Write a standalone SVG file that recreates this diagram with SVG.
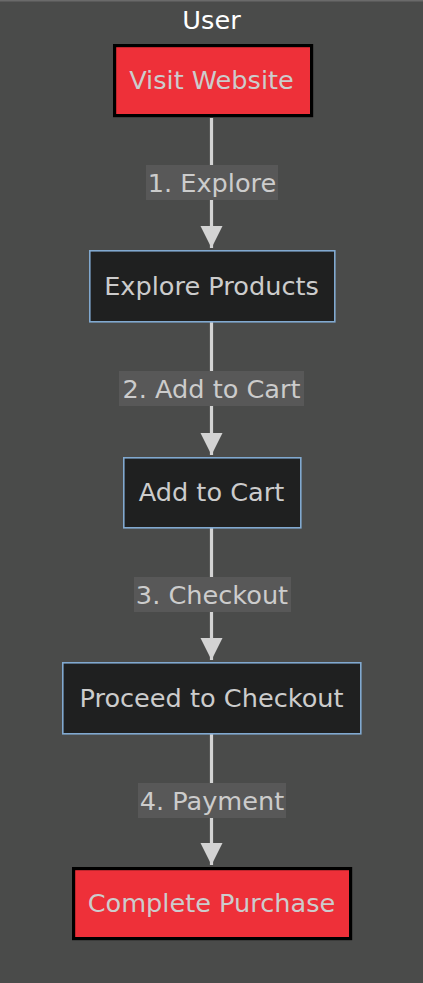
<svg xmlns="http://www.w3.org/2000/svg" width="423" height="983" viewBox="0 0 423 983">
<defs>
<style>
text{font-family:"DejaVu Sans","Liberation Sans",sans-serif;font-size:25.6px;text-anchor:middle;dominant-baseline:central;fill:#cccccc}
.title{fill:#ffffff}
.red{fill:#ee3039;stroke:#000000;stroke-width:3.2}
.blue{fill:#1f2020;stroke:#81a9d0;stroke-width:1.6}
.edge{stroke:#d3d3d3;stroke-width:3.2;fill:none}
.lbl{fill:#585858}
</style>
<marker id="arr" viewBox="0 0 10 10" refX="10" refY="5" markerWidth="7" markerHeight="7" markerUnits="strokeWidth" orient="auto">
<path d="M0,0 L10,5 L0,10 z" fill="#d3d3d3"/>
</marker>
</defs>
<rect id="background" x="0" y="0" width="423" height="983" fill="#4a4b4a"/>
<line x1="0" y1="0.8" x2="423" y2="0.8" stroke="#6a6a6a" stroke-width="1.6"/>
<text class="title" x="211.5" y="20">User</text>
<g id="connectors">
<path class="edge" d="M211.5,118 V248" marker-end="url(#arr)"/>
<path class="edge" d="M211.5,322 V455" marker-end="url(#arr)"/>
<path class="edge" d="M211.5,528 V660" marker-end="url(#arr)"/>
<path class="edge" d="M211.5,734 V865" marker-end="url(#arr)"/>
<g id="label1"><rect class="lbl" x="146" y="165" width="132" height="35"/><text x="212" y="183">1. Explore</text></g>
<g id="label2"><rect class="lbl" x="119" y="371" width="185" height="35"/><text x="211.5" y="389">2. Add to Cart</text></g>
<g id="label3"><rect class="lbl" x="134" y="577" width="157" height="35"/><text x="212" y="595">3. Checkout</text></g>
<g id="label4"><rect class="lbl" x="138" y="783" width="148" height="35"/><text x="212" y="801">4. Payment</text></g>
</g>
<g id="visit"><rect class="red" x="114.6" y="45.6" width="197" height="70"/><text x="211.5" y="80">Visit Website</text></g>
<g id="explore"><rect class="blue" x="89.8" y="250.8" width="245" height="71"/><text x="211.5" y="286">Explore Products</text></g>
<g id="cart"><rect class="blue" x="123.8" y="457.8" width="177" height="70"/><text x="211.5" y="492">Add to Cart</text></g>
<g id="checkout"><rect class="blue" x="62.8" y="662.8" width="298" height="71"/><text x="211.5" y="698">Proceed to Checkout</text></g>
<g id="purchase"><rect class="red" x="73.6" y="868.6" width="277" height="70"/><text x="211.5" y="903">Complete Purchase</text></g>
</svg>
